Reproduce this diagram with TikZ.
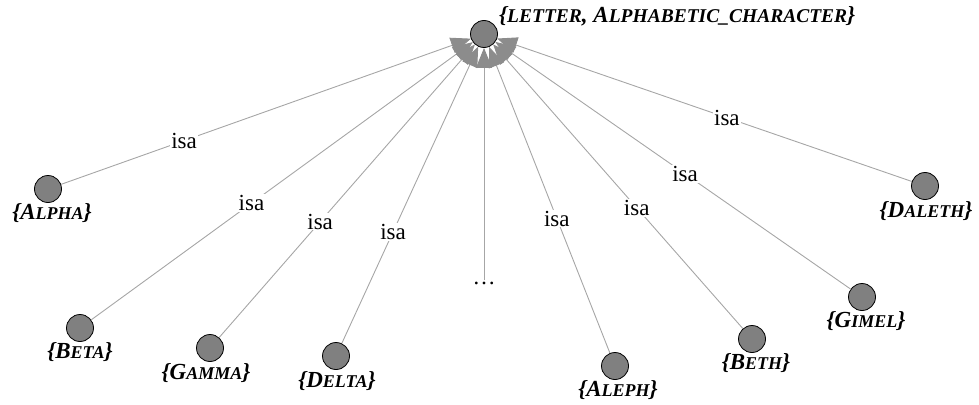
\documentclass[tikz,border=0pt]{standalone}
\usepackage{fontspec}
\setmainfont{Liberation Serif}
\usetikzlibrary{arrows.meta}
\tikzset{>={Triangle[length=14pt,width=13pt]}}
\newcommand{\capsm}[1]{{\fontsize{18}{20}\selectfont #1}}
\newcommand{\capbig}[1]{{\fontsize{19.5}{21}\selectfont #1}}
\newcommand{\setlbl}[2]{\{#1\capsm{#2}\}}

\begin{document}
\begin{tikzpicture}[x=1pt, y=-1pt,
        concept/.style={circle, draw=black, fill=black!50, line width=0.8pt, minimum size=27pt, inner sep=0pt},
        setname/.style={font=\fontsize{23}{25}\selectfont\bfseries\itshape, inner sep=0pt},
        isa/.style={fill=white, inner sep=1pt, font=\fontsize{23}{25}\selectfont},
        link/.style={draw=black!35, line width=0.9pt, -{Triangle[length=20pt,width=16pt,color=black!45]}}]
        \useasboundingbox (0,0) rectangle (979,404);

        \node[concept] (letter) at (484,34) {};
        \node[setname, anchor=west] (letterlbl) at (499,16) {\{\capbig{LETTER}, A\capbig{LPHABETIC\_CHARACTER}\}};

        \node[concept] (alpha) at (48,189) {};
        \node[concept] (beta) at (80,328) {};
        \node[concept] (gamma) at (210,348) {};
        \node[concept] (delta) at (336,356) {};
        \node[inner sep=1pt, font=\fontsize{23}{25}\selectfont] (more) at (484,283) {\ldots};
        \node[concept] (aleph) at (615,366) {};
        \node[concept] (beth) at (752,339) {};
        \node[concept] (gimel) at (862,297) {};
        \node[concept] (daleth) at (925,186) {};

        \node[setname] (alphalbl) at (52,213) {\setlbl{A}{LPHA}};
        \node[setname] (betalbl) at (80,352) {\setlbl{B}{ETA}};
        \node[setname] (gammalbl) at (206,373) {\setlbl{G}{AMMA}};
        \node[setname] (deltalbl) at (337,381) {\setlbl{D}{ELTA}};
        \node[setname] (alephlbl) at (618,390) {\setlbl{A}{LEPH}};
        \node[setname] (bethlbl) at (756,363) {\setlbl{B}{ETH}};
        \node[setname] (gimellbl) at (866,321) {\setlbl{G}{IMEL}};
        \node[setname] (dalethlbl) at (926,211) {\setlbl{D}{ALETH}};

        \draw [link] (alpha) -- node[isa, pos=0.30] {isa} (letter);
        \draw [link] (beta) -- node[isa, pos=0.42] {isa} (letter);
        \draw [link] (gamma) -- node[isa, pos=0.395] {isa} (letter);
        \draw [link] (delta) -- node[isa, pos=0.376] {isa} (letter);
        \draw [link] (more) -- (letter);
        \draw [link] (aleph) -- node[isa, pos=0.439] {isa} (letter);
        \draw [link] (beth) -- node[isa, pos=0.425] {isa} (letter);
        \draw [link] (gimel) -- node[isa, pos=0.466] {isa} (letter);
        \draw [link] (daleth) -- node[isa, pos=0.446] {isa} (letter);
\end{tikzpicture}
\end{document}
